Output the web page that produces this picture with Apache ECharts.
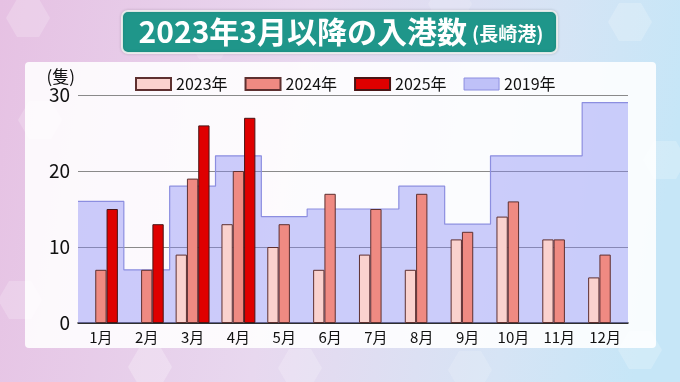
<!DOCTYPE html>
<html>
<head>
<meta charset="utf-8">
<script src="https://cdn.jsdelivr.net/npm/echarts@6/dist/echarts.min.js"></script>
<style>
html,body{margin:0;padding:0;width:680px;height:382px;overflow:hidden;}
#c{width:680px;height:382px;}
</style>
</head>
<body>
<div id="c"></div>
<script>
const months = ['1月','2月','3月','4月','5月','6月','7月','8月','9月','10月','11月','12月'];
const y2023 = [null, null, 9, 13, 10, 7, 9, 7, 11, 14, 11, 6];
const y2024 = [7, 7, 19, 20, 13, 17, 15, 17, 12, 16, 11, 9];
const y2025 = [15, 13, 26, 27, null, null, null, null, null, null, null, null];
const y2019 = [16, 7, 18, 22, 14, 15, 15, 18, 13, 22, 22, 29];
const yTicks = [0, 10, 20, 30];
const titleMain = '2023年3月以降の入港数';
const titleSub = '(長崎港)';

const FONT = '"Noto Sans CJK JP", "Noto Sans", sans-serif';

// step-area points across month boundaries (0..12)
const steps2019 = y2019.map((v, i) => [i, v]).concat([[y2019.length, y2019[y2019.length - 1]]]);

function hex(cx, cy, r, op) {
  const pts = [];
  for (let k = 0; k < 6; k++) {
    const a = Math.PI / 3 * k;
    pts.push([cx + r * Math.cos(a), cy + r * Math.sin(a)]);
  }
  return { type: 'polygon', shape: { points: pts }, style: { fill: 'rgba(255,255,255,' + op + ')' }, silent: true, z: -9 };
}

const chart = echarts.init(document.getElementById('c'), null, { renderer: 'canvas' });
chart.setOption({
  animation: false,
  textStyle: { fontFamily: FONT },
  graphic: [
    { type: 'rect', shape: { x: 0, y: 0, width: 680, height: 382 }, z: -10, silent: true,
      style: { fill: new echarts.graphic.LinearGradient(0, 0, 1, 0.3, [
        { offset: 0, color: '#e6c1e3' },
        { offset: 0.45, color: '#e8d8ef' },
        { offset: 0.8, color: '#d6e4f5' },
        { offset: 1, color: '#c6e6f7' }]) } },
    hex(28, 18, 22, 0.2), hex(210, 40, 22, 0.15), hex(40, 120, 22, 0.2), hex(20, 300, 22, 0.2),
    hex(150, 367, 22, 0.25), hex(300, 368, 22, 0.2), hex(470, 370, 22, 0.15), hex(640, 350, 22, 0.2),
    hex(665, 160, 22, 0.2), hex(630, 22, 22, 0.2), hex(450, 4, 22, 0.15),
    { type: 'rect', shape: { x: 25, y: 62, width: 631, height: 286, r: 4 }, z: -5, silent: true,
      style: { fill: 'rgba(255,255,255,0.88)' } },
    { type: 'rect', shape: { x: 122, y: 11, width: 435, height: 42, r: 6 }, z: 10, silent: true,
      style: { fill: '#1f968a', stroke: 'rgba(240,240,240,0.9)', lineWidth: 2,
               shadowColor: 'rgba(0,0,0,0.15)', shadowBlur: 3 } },
    { type: 'text', x: 341, y: 32, z: 11, silent: true,
      style: { text: '{a|' + titleMain + '}{b|' + titleSub + '}', align: 'center', verticalAlign: 'middle',
        rich: {
          a: { fontFamily: FONT, fontSize: 30, fontWeight: 'bold', fill: '#ffffff', color: '#ffffff' },
          b: { fontFamily: FONT, fontSize: 19, fontWeight: 'bold', fill: '#ffffff', color: '#ffffff', padding: [4, 0, 0, 5] }
        } } }
  ],
  legend: {
    left: 130, top: 71, itemWidth: 35, itemHeight: 12, itemGap: 17,
    textStyle: { fontFamily: FONT, fontSize: 16, color: '#111' },
    data: [
      { name: '2023年', icon: 'rect' },
      { name: '2024年', icon: 'rect' },
      { name: '2025年', icon: 'rect' },
      { name: '2019年', icon: 'rect', itemStyle: { color: '#bfc1f8', borderColor: '#8c8ee0', borderWidth: 1 } }
    ]
  },
  grid: { left: 78, right: 52, top: 95, bottom: 59, containLabel: false },
  xAxis: [
    { type: 'category', data: months,
      axisLine: { lineStyle: { color: '#111', width: 1.5 } },
      axisTick: { show: false },
      axisLabel: { fontFamily: FONT, fontSize: 15, color: '#111', margin: 7 } },
    { type: 'value', min: 0, max: months.length, show: false }
  ],
  yAxis: {
    type: 'value', min: 0, max: 30, interval: 10,
    name: '(隻)', nameLocation: 'end', nameGap: 10,
    nameTextStyle: { fontFamily: FONT, fontSize: 17, color: '#111', align: 'right', padding: [0, 3, 0, 0] },
    axisLine: { show: false }, axisTick: { show: false },
    axisLabel: { fontFamily: FONT, fontSize: 19, color: '#111', margin: 8,
      formatter: v => yTicks.includes(v) ? String(v) : '' },
    splitLine: { lineStyle: { color: '#8a8a8a', width: 1 } }
  },
  series: [
    { name: '2019年', type: 'line', xAxisIndex: 1, data: steps2019, step: 'end', symbol: 'none',
      z: 1, lineStyle: { color: '#8c8ee0', width: 1.2 },
      itemStyle: { color: '#bfc1f8' },
      areaStyle: { color: 'rgba(132,136,244,0.58)' } },
    { name: '2023年', type: 'bar', data: y2023, barGap: '0%', barCategoryGap: '26%', z: 3,
      itemStyle: { color: '#fad2ce', borderColor: '#5e3030', borderWidth: 1 } },
    { name: '2024年', type: 'bar', data: y2024, z: 3,
      itemStyle: { color: '#ef8a82', borderColor: '#5e3030', borderWidth: 1 } },
    { name: '2025年', type: 'bar', data: y2025, z: 3,
      itemStyle: { color: '#df0000', borderColor: '#4a1515', borderWidth: 1 } }
  ]
});
</script>
</body>
</html>
